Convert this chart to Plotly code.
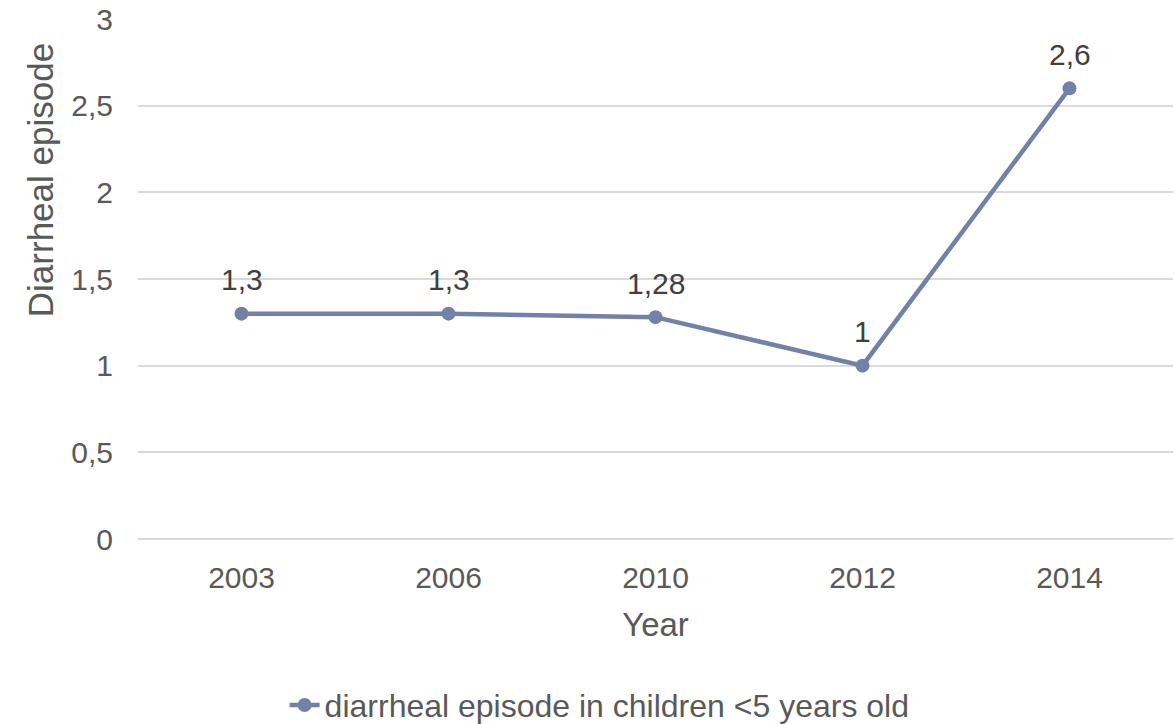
import plotly.graph_objects as go

years = ["2003", "2006", "2010", "2012", "2014"]
values = [1.3, 1.3, 1.28, 1.0, 2.6]
series_name = "diarrheal episode in children <5 years old"
y_ticks = [0, 0.5, 1, 1.5, 2, 2.5, 3]

FONT = "Liberation Sans, Arial, sans-serif"
LINE_COLOR = "#7381a8"

labels = [("%g" % v).replace(".", ",") for v in values]

fig = go.Figure()
fig.add_trace(go.Scatter(
    x=years, y=values, mode="lines+markers", name=series_name,
    line=dict(color=LINE_COLOR, width=4.5),
    marker=dict(color=LINE_COLOR, size=14),
    showlegend=True,
))

for i, (y, t) in enumerate(zip(values, labels)):
    fig.add_annotation(x=i, y=y, xref="x", yref="y", text=t, showarrow=False, yshift=34,
                       font=dict(family=FONT, size=30, color="#404040"))

# y-axis title (positioned like the reference, above centre)
fig.add_annotation(x=0, y=0.69, xref="paper", yref="paper", xshift=-98,
                   xanchor="center", yanchor="middle",
                   text="Diarrheal episode", textangle=-90, showarrow=False,
                   font=dict(family=FONT, size=35, color="#595959"))

fig.update_layout(
    width=1175, height=724,
    margin=dict(l=138, r=2, t=19, b=185, autoexpand=False),
    paper_bgcolor="white", plot_bgcolor="white",
    separators=", ",
    font=dict(family=FONT, color="#595959"),
    xaxis=dict(
        type="category", range=[-0.5, 4.5], automargin=False,
        showgrid=False, showline=False, ticks="",
        tickfont=dict(size=30, color="#595959"),
        ticklabelstandoff=18,
        title=dict(text="Year", font=dict(size=33, color="#595959"), standoff=19),
    ),
    yaxis=dict(
        range=[0, 3], tickvals=y_ticks, automargin=False,
        showgrid=True, gridcolor="#d9d9d9", gridwidth=2,
        zeroline=True, zerolinecolor="#d9d9d9", zerolinewidth=2,
        showline=False, ticks="", ticklen=0,
        ticklabelstandoff=24,
        tickfont=dict(size=30, color="#595959"),
    ),
    legend=dict(orientation="h", x=0.446, xanchor="center",
                yref="container", y=0.026, yanchor="middle",
                font=dict(size=32, color="#595959")),
)

fig.write_html("out.html")
